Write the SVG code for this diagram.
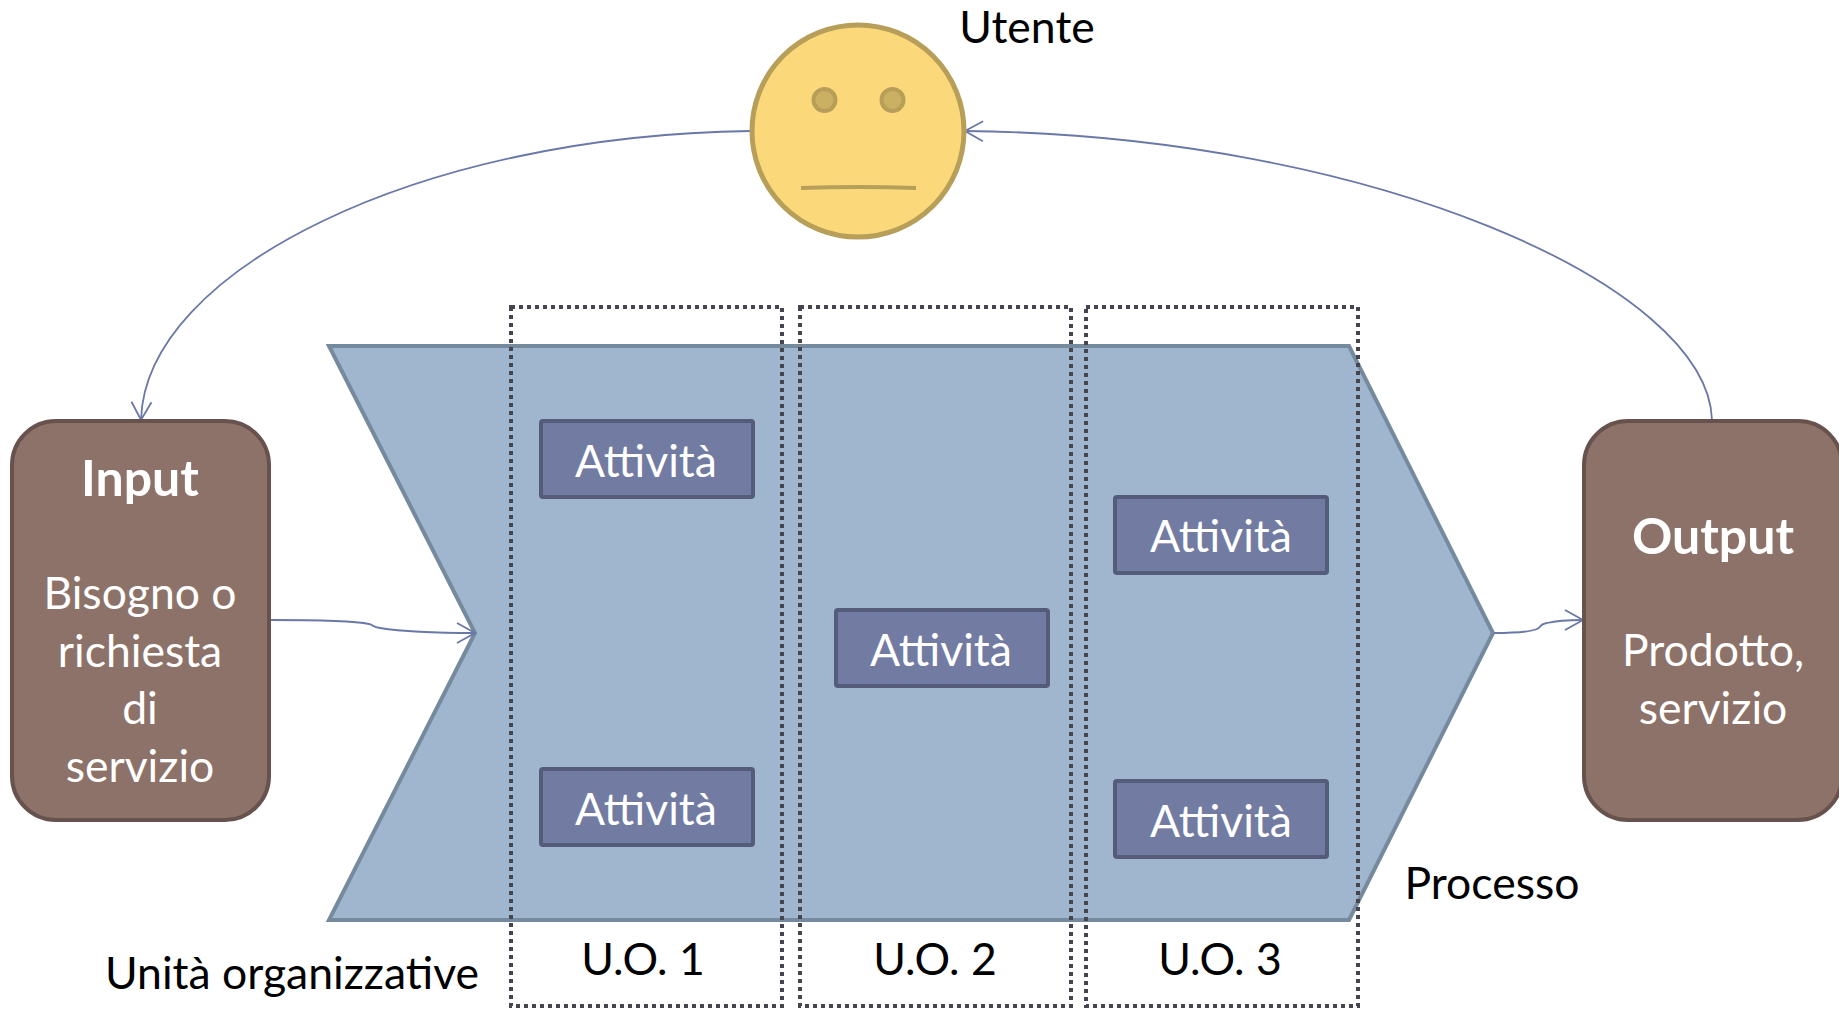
<svg xmlns="http://www.w3.org/2000/svg" width="1839" height="1009" viewBox="0 0 1839 1009">
<defs>
<style>
text{font-family:"Lato","Open Sans","Liberation Sans",sans-serif;text-anchor:middle}
.w{fill:#fff;font-size:44.5px}
.b{fill:#fff;font-size:50px;font-weight:700}
.k{fill:#000;font-size:44.5px}
.a{fill:#727BA1;stroke:#555C79;stroke-width:4}
.box{fill:#8D7269;stroke:#67524D;stroke-width:4}
.u{fill:none;stroke:#45454F;stroke-width:4;stroke-dasharray:4 4}
.c{fill:none;stroke:#6A78A8;stroke-width:1.8}
</style>
<marker id="arr" markerUnits="userSpaceOnUse" markerWidth="24" markerHeight="26" refX="20" refY="12" orient="auto">
<path d="M2 2L20 12L2 22" fill="none" stroke="#6A78A8" stroke-width="1.8"/>
</marker>
</defs>
<rect width="1839" height="1009" fill="#fff"/>
<g id="processo"><path d="M329 346H1349L1493 633L1349 920H329L475 633Z" fill="#A0B6CE" stroke="#758A9C" stroke-width="4"/></g>
<g id="connectors">
<path class="c" d="M751 131C420 135 145 270 141 420" marker-end="url(#arr)"/>
<path class="c" d="M1712 420C1708 285 1370 135 965 131" marker-end="url(#arr)"/>
<path class="c" d="M270 620C310 620 355 621 369 624C374 625 372 627 380 628C405 632 440 633 475 633" marker-end="url(#arr)"/>
<path class="c" d="M1494 633C1515 633 1530 632 1537 629C1542 627 1538 625 1547 623C1555 621 1570 620 1583 620" marker-end="url(#arr)"/>
</g>
<g id="utente">
<circle cx="858" cy="131" r="106" fill="#FBD97A" stroke="#B79F5A" stroke-width="5"/>
<circle cx="824.5" cy="100" r="11" fill="#C9B062" stroke="#B79F5A" stroke-width="4"/>
<circle cx="892.5" cy="100" r="11" fill="#C9B062" stroke="#B79F5A" stroke-width="4"/>
<path d="M801 188Q858 186 916 188" fill="none" stroke="#B79F5A" stroke-width="4"/>
<text class="k" x="1027" y="43">Utente</text>
</g>
<g id="input"><rect class="box" x="12" y="421" width="257" height="399" rx="44"/>
<text class="b" x="140" y="496">Input</text>
<text class="w" x="140" y="609">Bisogno o</text>
<text class="w" x="140" y="667">richiesta</text>
<text class="w" x="140" y="724">di</text>
<text class="w" x="140" y="782">servizio</text></g>
<g id="output"><rect class="box" x="1584" y="421" width="258" height="399" rx="44"/>
<text class="b" x="1713" y="554">Output</text>
<text class="w" x="1713" y="666">Prodotto,</text>
<text class="w" x="1713" y="724">servizio</text></g>
<g id="a1"><rect class="a" x="541" y="421" width="212" height="76" rx="2"/><text class="w" x="646" y="477">Attività</text></g>
<g id="a2"><rect class="a" x="541" y="769" width="212" height="76" rx="2"/><text class="w" x="646" y="825">Attività</text></g>
<g id="a3"><rect class="a" x="836" y="610" width="212" height="76" rx="2"/><text class="w" x="941" y="666">Attività</text></g>
<g id="a4"><rect class="a" x="1115" y="497" width="212" height="76" rx="2"/><text class="w" x="1221" y="552">Attività</text></g>
<g id="a5"><rect class="a" x="1115" y="781" width="212" height="76" rx="2"/><text class="w" x="1221" y="837">Attività</text></g>
<g id="uo1"><rect class="u" x="511" y="307" width="271" height="699"/><text class="k" x="643" y="975">U.O. 1</text></g>
<g id="uo2"><rect class="u" x="800" y="307" width="271" height="699"/><text class="k" x="935" y="975">U.O. 2</text></g>
<g id="uo3"><rect class="u" x="1086" y="307" width="272" height="699"/><text class="k" x="1220" y="975">U.O. 3</text></g>
<text class="k" x="1492" y="899">Processo</text>
<text class="k" x="292" y="989">Unità organizzative</text>
</svg>
